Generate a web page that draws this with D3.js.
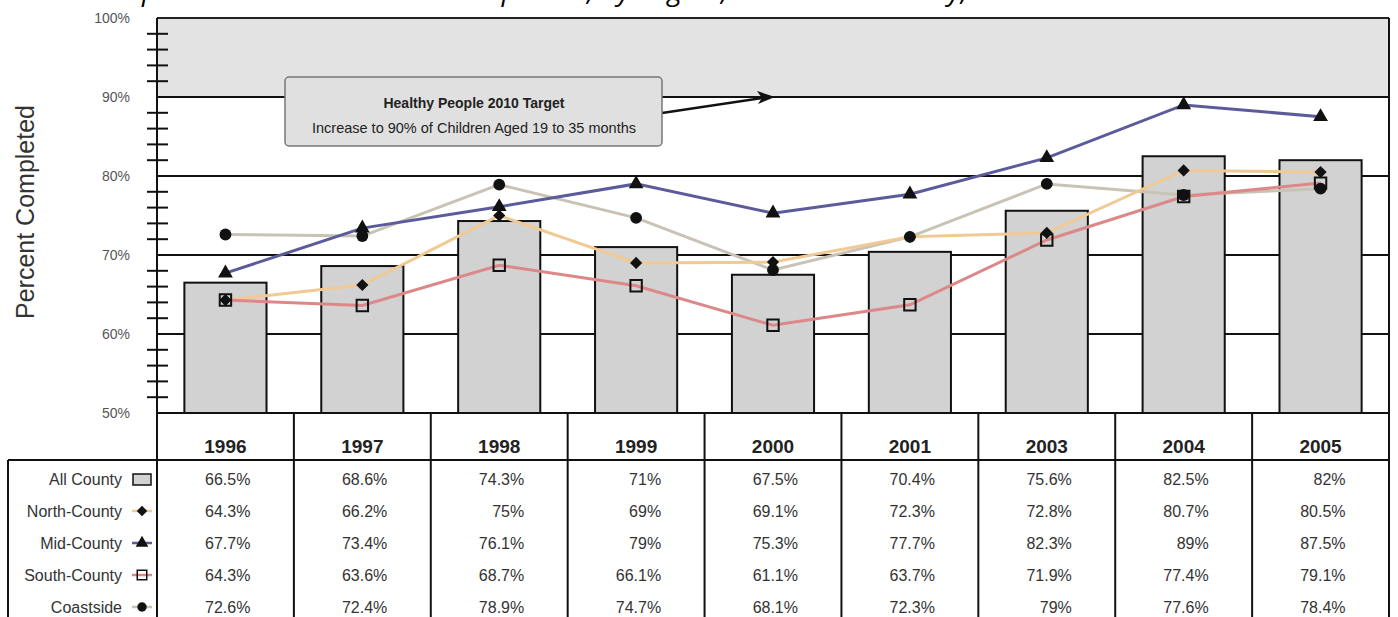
<!DOCTYPE html>
<meta charset="utf-8">
<style>
    html,
    body {
        margin: 0;
        padding: 0;
        background: #fff;
    }

    svg text {
        font-family: "Liberation Sans", Arial, sans-serif;
    }
</style>

<body>
    <svg width="1398" height="617"></svg>
    <script src="https://cdn.jsdelivr.net/npm/d3@7"></script>
    <script>
        // data
        const years = ['1996', '1997', '1998', '1999', '2000', '2001', '2003', '2004', '2005'];
        const allCounty = [66.5, 68.6, 74.3, 71, 67.5, 70.4, 75.6, 82.5, 82];
        const northCounty = [64.3, 66.2, 75, 69, 69.1, 72.3, 72.8, 80.7, 80.5];
        const midCounty = [67.7, 73.4, 76.1, 79, 75.3, 77.7, 82.3, 89, 87.5];
        const southCounty = [64.3, 63.6, 68.7, 66.1, 61.1, 63.7, 71.9, 77.4, 79.1];
        const coastside = [72.6, 72.4, 78.9, 74.7, 68.1, 72.3, 79, 77.6, 78.4];
        const yTicks = [50, 60, 70, 80, 90, 100];
        const target = 90;

        const rows = [
            { name: 'All County', values: allCounty, marker: 'bar' },
            { name: 'North-County', values: northCounty, marker: 'diamond', color: '#f0c995' },
            { name: 'Mid-County', values: midCounty, marker: 'triangle', color: '#5b5b9b' },
            { name: 'South-County', values: southCounty, marker: 'square', color: '#dc8888' },
            { name: 'Coastside', values: coastside, marker: 'circle', color: '#c9c3b5' }
        ];

        const svg = d3.select('svg');
        const plotLeft = 157, plotRight = 1389, plotTop = 18, plotBottom = 413;
        const headerBottom = 460, rowH = 32;

        const x = d3.scaleBand().domain(years).range([plotLeft, plotRight]);
        const y = d3.scaleLinear().domain([50, 100]).range([plotBottom, plotTop]);
        const cx = d => x(d) + x.bandwidth() / 2;

        // title, cut by the top edge as in the source picture
        svg.append('text')
            .attr('x', 615).attr('y', 0)
            .attr('text-anchor', 'middle')
            .style('font-family', '"Open Sans", sans-serif')
            .style('font-style', 'italic')
            .style('font-size', '28px')
            .text('Up-to-Date Immunization Completion, by Region, San Mateo County, 1996-2005');

        // target band
        svg.append('rect')
            .attr('x', plotLeft).attr('y', y(100))
            .attr('width', plotRight - plotLeft).attr('height', y(target) - y(100))
            .attr('fill', '#e3e3e3');

        // gridlines
        svg.append('g').selectAll('line')
            .data(yTicks.slice(1))
            .join('line')
            .attr('x1', plotLeft).attr('x2', plotRight)
            .attr('y1', d => y(d)).attr('y2', d => y(d))
            .attr('stroke', '#111').attr('stroke-width', 2);

        // minor ticks
        const minor = d3.range(52, 100, 2).filter(d => d % 10 !== 0);
        svg.append('g').selectAll('line')
            .data(minor)
            .join('line')
            .attr('x1', plotLeft - 10).attr('x2', plotLeft + 11)
            .attr('y1', d => y(d)).attr('y2', d => y(d))
            .attr('stroke', '#111').attr('stroke-width', 2);

        // y labels
        svg.append('g').selectAll('text')
            .data(yTicks)
            .join('text')
            .attr('x', 130).attr('y', d => y(d) + 5)
            .attr('text-anchor', 'end')
            .attr('fill', '#555')
            .style('font-size', '14px')
            .text(d => d + '%');

        svg.append('text')
            .attr('transform', 'translate(34,212) rotate(-90)')
            .attr('text-anchor', 'middle')
            .attr('fill', '#333')
            .style('font-size', '25px')
            .text('Percent Completed');

        // bars
        const barW = x.bandwidth() * 0.6;
        svg.append('g').selectAll('rect')
            .data(years)
            .join('rect')
            .attr('x', d => cx(d) - barW / 2)
            .attr('y', (d, i) => y(allCounty[i]))
            .attr('width', barW)
            .attr('height', (d, i) => plotBottom - y(allCounty[i]))
            .attr('fill', '#d2d2d2')
            .attr('stroke', '#111').attr('stroke-width', 2);

        // frame
        svg.append('line').attr('x1', plotLeft).attr('x2', plotRight).attr('y1', plotTop).attr('y2', plotTop)
            .attr('stroke', '#222').attr('stroke-width', 2);
        svg.append('line').attr('x1', plotLeft).attr('x2', plotLeft).attr('y1', plotTop).attr('y2', 617)
            .attr('stroke', '#111').attr('stroke-width', 2);
        svg.append('line').attr('x1', plotRight).attr('x2', plotRight).attr('y1', plotTop).attr('y2', 617)
            .attr('stroke', '#111').attr('stroke-width', 2);
        svg.append('line').attr('x1', plotLeft).attr('x2', plotRight).attr('y1', plotBottom).attr('y2', plotBottom)
            .attr('stroke', '#111').attr('stroke-width', 2);

        // annotation
        const ann = svg.append('g');
        const tipX = cx('2000'), tipY = y(target);
        ann.append('line')
            .attr('x1', 662).attr('y1', 113)
            .attr('x2', tipX - 4).attr('y2', tipY)
            .attr('stroke', '#111').attr('stroke-width', 2.5);
        ann.append('path')
            .attr('d', d3.line()([[tipX + 2, tipY], [tipX - 16, tipY - 6], [tipX - 11, tipY + 1], [tipX - 15, tipY + 7]]))
            .attr('fill', '#111');
        ann.append('rect')
            .attr('x', 285).attr('y', 77).attr('width', 377).attr('height', 69).attr('rx', 4)
            .attr('fill', '#e0e0e0').attr('stroke', '#777').attr('stroke-width', 1.5);
        ann.append('text')
            .attr('x', 474).attr('y', 108).attr('text-anchor', 'middle')
            .attr('fill', '#222').style('font-size', '14px').style('font-weight', 'bold')
            .text('Healthy People 2010 Target');
        ann.append('text')
            .attr('x', 474).attr('y', 133).attr('text-anchor', 'middle')
            .attr('fill', '#222').style('font-size', '14.5px')
            .text('Increase to 90% of Children Aged 19 to 35 months');

        // marker shapes
        const sym = {
            diamond: d3.symbol().type(d3.symbolDiamond2).size(95),
            triangle: d3.symbol().type(d3.symbolTriangle).size(95),
            circle: d3.symbol().type(d3.symbolCircle).size(110),
            square: d3.symbol().type(d3.symbolSquare).size(130)
        };

        const line = d3.line().x(d => d[0]).y(d => d[1]);
        const order = [rows[4], rows[1], rows[3], rows[2]];
        order.forEach(r => {
            const pts = years.map((yr, i) => [cx(yr), y(r.values[i])]);
            svg.append('path')
                .attr('d', line(pts))
                .attr('fill', 'none')
                .attr('stroke', r.color).attr('stroke-width', 3);
        });
        order.forEach(r => {
            svg.append('g').selectAll('path')
                .data(years)
                .join('path')
                .attr('transform', (yr, i) => `translate(${cx(yr)},${y(r.values[i])})`)
                .attr('d', sym[r.marker]())
                .attr('fill', r.marker === 'square' ? 'none' : '#111')
                .attr('stroke', '#111')
                .attr('stroke-width', r.marker === 'square' ? 2 : 0);
        });

        // data table
        svg.append('line').attr('x1', 8).attr('x2', plotRight).attr('y1', headerBottom).attr('y2', headerBottom)
            .attr('stroke', '#111').attr('stroke-width', 2);
        svg.append('line').attr('x1', 8).attr('x2', 8).attr('y1', headerBottom).attr('y2', 617)
            .attr('stroke', '#111').attr('stroke-width', 2);
        svg.append('g').selectAll('line')
            .data(years.slice(1))
            .join('line')
            .attr('x1', d => x(d)).attr('x2', d => x(d))
            .attr('y1', plotBottom).attr('y2', 617)
            .attr('stroke', '#111').attr('stroke-width', 2);

        svg.append('g').selectAll('text')
            .data(years)
            .join('text')
            .attr('x', d => cx(d)).attr('y', 453)
            .attr('text-anchor', 'middle')
            .attr('fill', '#222')
            .style('font-size', '19px').style('font-weight', 'bold')
            .text(d => d);

        rows.forEach((r, ri) => {
            const ty = headerBottom + 25 + ri * rowH;
            const g = svg.append('g');
            g.append('text')
                .attr('x', 122).attr('y', ty)
                .attr('text-anchor', 'end').attr('fill', '#333')
                .style('font-size', '16px')
                .text(r.name);
            const mx = 142, my = ty - 6;
            if (r.marker === 'bar') {
                g.append('rect').attr('x', mx - 9).attr('y', my - 5).attr('width', 18).attr('height', 11)
                    .attr('fill', '#d2d2d2').attr('stroke', '#111').attr('stroke-width', 1.5);
            } else {
                g.append('line').attr('x1', mx - 10).attr('x2', mx + 10).attr('y1', my).attr('y2', my)
                    .attr('stroke', r.color).attr('stroke-width', 2.5);
                g.append('path').attr('transform', `translate(${mx},${my})`)
                    .attr('d', sym[r.marker].size(r.marker === 'square' ? 90 : 70)())
                    .attr('fill', r.marker === 'square' ? 'none' : '#111')
                    .attr('stroke', '#111').attr('stroke-width', r.marker === 'square' ? 1.5 : 0);
            }
            g.selectAll('text.v')
                .data(years)
                .join('text')
                .attr('class', 'v')
                .attr('x', d => cx(d) + 25).attr('y', ty)
                .attr('text-anchor', 'end').attr('fill', '#333')
                .style('font-size', '16px')
                .text((d, i) => r.values[i] + '%');
        });
    </script>
</body>

</html>
